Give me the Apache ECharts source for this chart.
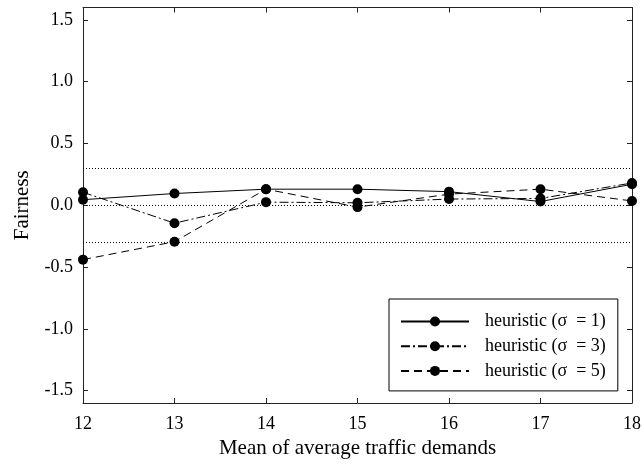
<!DOCTYPE html>
<html>
<head>
<meta charset="utf-8">
<script src="https://cdn.jsdelivr.net/npm/echarts@6/dist/echarts.min.js"></script>
<style>
  html, body { margin: 0; padding: 0; background: #fff; }
  #chart { width: 644px; height: 476px; }
</style>
</head>
<body>
<div id="chart"></div>
<script>
// Mean of average traffic demands (x) vs. fairness (y)
const demands = [12, 13, 14, 15, 16, 17, 18];
const sigma1 = [0.045, 0.095, 0.13, 0.13, 0.11, 0.03, 0.17];
const sigma3 = [0.105, -0.145, 0.025, 0.02, 0.05, 0.055, 0.18];
const sigma5 = [-0.44, -0.295, 0.13, -0.015, 0.09, 0.13, 0.035];
const seriesNames = ['heuristic (σ  = 1)', 'heuristic (σ  = 3)', 'heuristic (σ  = 5)'];
const referenceLevels = [0.3, 0.0, -0.3];
const yTicks = [-1.5, -1.0, -0.5, 0.0, 0.5, 1.0, 1.5];

const FONT = 'Liberation Serif';
const INK = '#000';
const AXIS = '#222';

function pairs(values) {
  return demands.map((x, i) => [x, values[i]]);
}

const dashStyles = ['solid', [9, 3, 2, 3], [8, 5]];
const valueSets = [sigma1, sigma3, sigma5];

const series = valueSets.map((vals, i) => ({
  name: seriesNames[i],
  type: 'line',
  data: pairs(vals),
  symbol: 'circle',
  symbolSize: 10,
  itemStyle: { color: INK },
  lineStyle: { color: INK, width: 1, type: dashStyles[i] },
  animation: false,
  z: 3
}));

// Dotted reference levels
series.push({
  type: 'line',
  data: [],
  silent: true,
  animation: false,
  markLine: {
    symbol: ['none', 'none'],
    silent: true,
    animation: false,
    label: { show: false },
    lineStyle: { color: INK, width: 1, type: [1, 2] },
    data: referenceLevels.map(v => ({ yAxis: v }))
  }
});

const baseAxis = {
  axisLine: { show: true, onZero: false, lineStyle: { color: AXIS, width: 1 } },
  axisTick: { show: true, inside: true, length: 5, lineStyle: { color: AXIS } },
  splitLine: { show: false }
};

const option = {
  backgroundColor: '#fff',
  animation: false,
  grid: { left: 83, right: 11, top: 7.5, bottom: 73 },
  xAxis: [
    Object.assign({}, baseAxis, {
      type: 'value', min: 12, max: 18, interval: 1,
      axisLabel: { color: INK, fontFamily: FONT, fontSize: 18, margin: 12 },
      name: 'Mean of average traffic demands',
      nameLocation: 'middle', nameGap: 29,
      nameTextStyle: { color: INK, fontFamily: FONT, fontSize: 21 }
    }),
    Object.assign({}, baseAxis, {
      type: 'value', min: 12, max: 18, interval: 1, position: 'top',
      axisLabel: { show: false }
    })
  ],
  yAxis: [
    Object.assign({}, baseAxis, {
      type: 'value', min: -1.6, max: 1.6,
      axisTick: { show: true, inside: true, length: 5, lineStyle: { color: AXIS }, customValues: yTicks },
      axisLabel: { color: INK, fontFamily: FONT, fontSize: 18, margin: 10, customValues: yTicks,
        formatter: v => v.toFixed(1) },
      name: 'Fairness',
      nameLocation: 'middle', nameGap: 50,
      nameTextStyle: { color: INK, fontFamily: FONT, fontSize: 21 }
    }),
    Object.assign({}, baseAxis, {
      type: 'value', min: -1.6, max: 1.6, position: 'right',
      axisTick: { show: true, inside: true, length: 5, lineStyle: { color: AXIS }, customValues: yTicks },
      axisLabel: { show: false, customValues: yTicks }
    })
  ],
  legend: {
    data: seriesNames,
    orient: 'vertical',
    left: 389, top: 299,
    padding: [13.5, 12, 11, 11],
    itemGap: 6.7,
    itemWidth: 68,
    itemHeight: 12.5,
    backgroundColor: '#fff',
    borderColor: INK,
    borderWidth: 1,
    borderRadius: 0,
    selectedMode: false,
    formatter: name => '{t|' + name + '}',
    textStyle: {
      color: INK, fontFamily: FONT, fontSize: 18,
      rich: { t: { fontFamily: FONT, fontSize: 18, color: INK, padding: [0, 0, 0, 11] } }
    }
  },
  series: series
};

const chart = echarts.init(document.getElementById('chart'), null, { renderer: 'canvas' });
chart.setOption(option);
</script>
</body>
</html>
